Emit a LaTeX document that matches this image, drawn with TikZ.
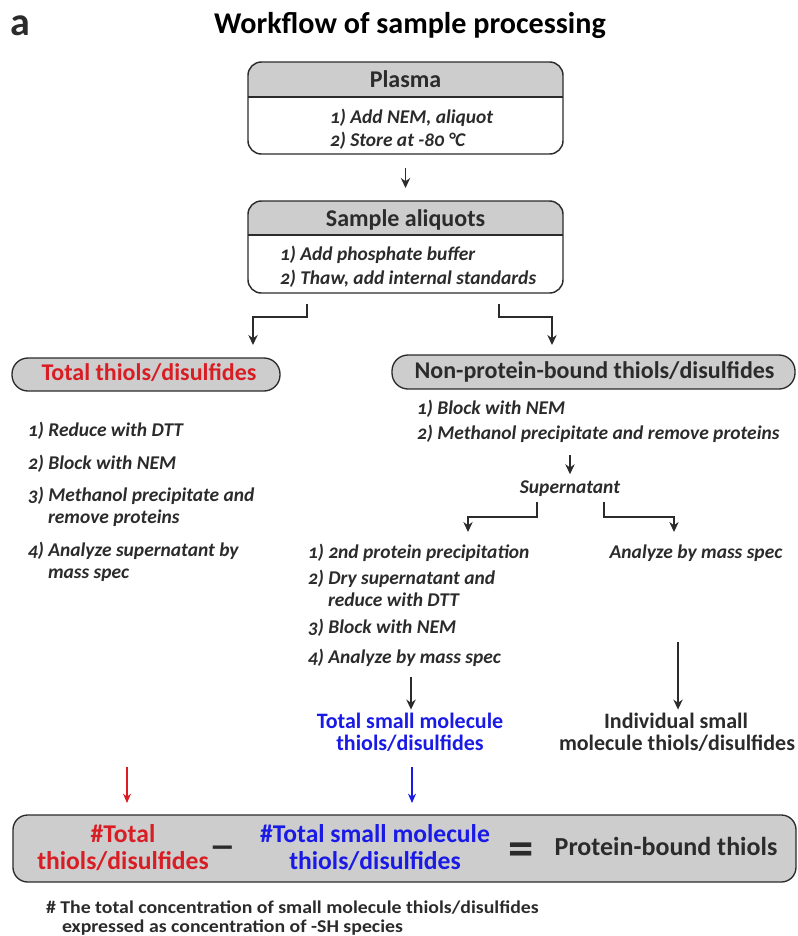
\documentclass[tikz,border=0pt]{standalone}
\usepackage{fontspec}
\setmainfont{Carlito}
\newfontfamily\stepfont[Numbers=OldStyle]{Carlito}
\newfontfamily\widefont[FakeStretch=1.1]{Carlito}
\usetikzlibrary{arrows.meta}
\definecolor{ink}{HTML}{2B2B2B}
\definecolor{hdr}{HTML}{CDCDCD}
\definecolor{redt}{HTML}{D81E24}
\definecolor{bluet}{HTML}{1A1AE6}
\begin{document}
\begin{tikzpicture}[x=0.75pt,y=-0.75pt,
  every node/.style={inner sep=0pt,outer sep=0pt,text=ink},
  frame/.style={draw=ink,line width=1.1pt,rounded corners=10pt},
  pill/.style={draw=ink,line width=1pt,fill=hdr,rounded corners=12pt},
  hdrfont/.style={font=\fontsize{18}{21}\selectfont\bfseries,anchor=base},
  stp/.style={font=\stepfont\fontsize{14.6}{17}\selectfont\bfseries\itshape,anchor=base west},
  stpc/.style={font=\stepfont\fontsize{14.6}{17}\selectfont\bfseries\itshape,anchor=base},
  arr/.style={draw=ink,line width=1.1pt,-{Stealth[length=7.5pt,width=7pt]}},
  redarr/.style={draw=redt,line width=0.9pt,-{Stealth[length=7pt,width=6pt]}},
  bluearr/.style={draw=bluet,line width=0.9pt,-{Stealth[length=7pt,width=6pt]}},
  resfont/.style={font=\fontsize{16.5}{20}\selectfont\bfseries,anchor=base},
  eqfont/.style={font=\fontsize{19.2}{19.8}\selectfont\bfseries,align=center,anchor=center},
  fnfont/.style={font=\widefont\fontsize{13.5}{16}\selectfont\bfseries,anchor=base west},
]
\useasboundingbox (0,0) rectangle (797,936);

% title
\node[font=\fontsize{30}{34}\selectfont\bfseries,anchor=base west] (lbl) at (11,35) {a};
\node[font=\fontsize{22.6}{26}\selectfont\bfseries,anchor=base,text=black] (title) at (410,33) {Workflow of sample processing};

% Plasma box
\node[minimum width=315*0.75pt,minimum height=92*0.75pt] (plasma) at (405.5,108) {};
\begin{scope}
\clip[rounded corners=10pt] (248,62) rectangle (563,154);
\fill[hdr] (248,62) rectangle (563,97);
\end{scope}
\draw[frame] (248,62) rectangle (563,154);
\draw[draw=ink,line width=0.8pt] (248,97) -- (563,97);
\node[hdrfont] (plasmaT) at (405.5,87) {Plasma};
\node[stp] (pl1) at (330,123) {1) Add NEM, aliquot};
\node[stp] (pl2) at (330,146) {2) Store at -80 °C};

% Sample aliquots box
\node[minimum width=315*0.75pt,minimum height=92*0.75pt] (aliq) at (405.5,247) {};
\begin{scope}
\clip[rounded corners=10pt] (248,201) rectangle (563,293);
\fill[hdr] (248,201) rectangle (563,235);
\end{scope}
\draw[frame] (248,201) rectangle (563,293);
\draw[draw=ink,line width=0.8pt] (248,235) -- (563,235);
\node[hdrfont] (aliqT) at (405.5,226) {Sample aliquots};
\node[stp] (al1) at (280,260) {1) Add phosphate buffer};
\node[stp] (al2) at (280,284) {2) Thaw, add internal standards};

\draw[arr,shorten <=14*0.75pt,shorten >=13*0.75pt] (plasma.south) -- (aliq.north);

% pills
\draw[pill] (12,358) rectangle (280,391);
\node[minimum width=268*0.75pt,minimum height=33*0.75pt] (tot) at (146,374.5) {};
\node[hdrfont,text=redt] (totT) at (149,380) {Total thiols/disulfides};

\draw[pill] (392,355) rectangle (795,389);
\node[minimum width=403*0.75pt,minimum height=34*0.75pt] (np) at (593.5,372) {};
\node[hdrfont] (npT) at (594.5,378) {Non-protein-bound thiols/disulfides};

% branch arrows from aliquots
\coordinate (b1s) at (307,304);
\coordinate (b2s) at (499,304);
\draw[arr] (b1s) -- ++(0,13) -| ([yshift=13*0.75pt]tot.north -| 253,0);
\draw[arr] (b2s) -- ++(0,13) -| ([yshift=10*0.75pt]np.north -| 552,0);

% left list
\node[stp] (t1) at (28,436) {1) Reduce with DTT};
\node[stp] (t2) at (28,469) {2) Block with NEM};
\node[stp] (t3) at (28,501) {3) Methanol precipitate and};
\node[stp] (t3b) at (48,523) {remove proteins};
\node[stp] (t4) at (28,556) {4) Analyze supernatant by};
\node[stp] (t4b) at (48,578) {mass spec};

% right list
\node[stp] (n1) at (417,414) {1) Block with NEM};
\node[stp] (n2) at (417,439) {2) Methanol precipitate and remove proteins};
\node[stpc] (sup) at (570,493) {Supernatant};
\draw[arr] (570,455) -- ([yshift=6*0.75pt]sup.north);

% supernatant branches
\coordinate (s1s) at (537,502);
\coordinate (s2s) at (604,502);
\draw[arr] (s1s) -- ++(0,15) -| (468,532);
\draw[arr] (s2s) -- ++(0,15) -| (674,532);

% middle list
\node[stp] (m1) at (308,558) {1) 2nd protein precipitation};
\node[stp] (m2) at (308,584) {2) Dry supernatant and};
\node[stp] (m2b) at (328,606) {reduce with DTT};
\node[stp] (m3) at (308,633) {3) Block with NEM};
\node[stp] (m4) at (308,663) {4) Analyze by mass spec};
\node[stpc] (ms) at (696,558) {Analyze by mass spec};

% results
\node[resfont,text=bluet] (tsm1) at (410,728) {Total small molecule};
\node[resfont,text=bluet] (tsm2) at (410,750) {thiols/disulfides};
\node[resfont] (ism1) at (676,728) {Individual small};
\node[resfont] (ism2) at (677,750) {molecule thiols/disulfides};

\draw[arr] (411,677) -- ([yshift=3*0.75pt]tsm1.north -| 411,0);
\draw[arr] (678,642) -- ([yshift=3*0.75pt]ism1.north -| 678,0);

% bottom box
\draw[draw=ink,line width=1pt,fill=hdr,rounded corners=11pt] (13,815) rectangle (796,882);
\node[minimum width=783*0.75pt,minimum height=67*0.75pt] (bot) at (404.5,848.5) {};
\node[eqfont,text=redt] (r1) at (123,847.5) {\#Total\\thiols/disulfides};
\node[font=\fontsize{40}{42}\selectfont\mdseries,anchor=base] (minus) at (223,862) {–};
\node[eqfont,text=bluet] (b1) at (375,847.5) {\#Total small molecule\\thiols/disulfides};
\node[font=\fontsize{38}{40}\selectfont\bfseries,anchor=base] (eq) at (521,865) {=};
\node[font=\fontsize{19.5}{23}\selectfont\bfseries,anchor=base] (pbt) at (666,855) {Protein-bound thiols};

\coordinate (rtop) at (127,767);
\coordinate (btop) at (412,767);
\draw[redarr] (rtop) -- ([yshift=12*0.75pt]bot.north -| rtop);
\draw[bluearr] (btop) -- ([yshift=12*0.75pt]bot.north -| btop);

% footnote
\node[fnfont] (fn1) at (46,913) {\# The total concentration of small molecule thiols/disulfides};
\node[fnfont] (fn2) at (62,932) {expressed as concentration of -SH species};
\end{tikzpicture}
\end{document}
